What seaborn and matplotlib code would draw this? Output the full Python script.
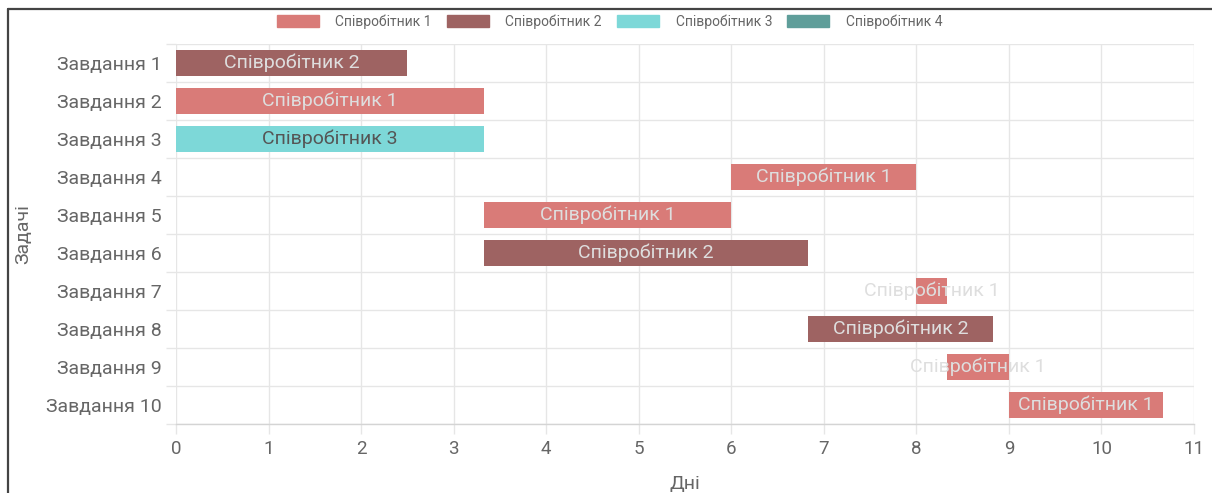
import matplotlib
matplotlib.use("Agg")
import matplotlib.pyplot as plt
from matplotlib.lines import Line2D
from matplotlib.patches import Patch
import numpy as np
import pandas as pd
import seaborn as sns

# Task schedule (days)
tasks = [f"Завдання {i}" for i in range(1, 11)]
assignees = ["Співробітник 2", "Співробітник 1", "Співробітник 3", "Співробітник 1",
             "Співробітник 1", "Співробітник 2", "Співробітник 1", "Співробітник 2",
             "Співробітник 1", "Співробітник 1"]
start_days = [0, 0, 0, 6, 3.33, 3.33, 8, 6.83, 8.33, 9]
end_days = [2.5, 3.33, 3.33, 8, 6, 6.83, 8.33, 8.83, 9, 10.67]

employees = ["Співробітник 1", "Співробітник 2", "Співробітник 3", "Співробітник 4"]
employee_colors = ["#d97b78", "#9e6362", "#7dd8d8", "#5f9e9a"]
text_colors = ["#dedede", "#dedede", "#555555", "#dedede"]

sns.set_theme(style="white")
plt.rcParams["font.family"] = ["Roboto", "DejaVu Sans"]

df = pd.DataFrame({"task": tasks, "employee": assignees,
                   "start": start_days, "end": end_days})

fig = plt.figure(figsize=(12.12, 4.93), dpi=100)
ax = fig.add_axes([176 / 1212, 1 - 424 / 493, (1194 - 176) / 1212, (424 - 44) / 493])

palette = dict(zip(employees, employee_colors))
sns.barplot(data=df, y="task", x="end", hue="employee", hue_order=employees,
            order=tasks, palette=palette, dodge=False, width=0.7,
            saturation=1, legend=False, ax=ax, orient="h")

# Shift each bar so it spans start..end
for p in list(ax.patches):
    w = p.get_width()
    if w is None or np.isnan(w):
        p.remove()
        continue
    idx = int(round(p.get_y() + p.get_height() / 2))
    p.set_x(start_days[idx])
    p.set_width(end_days[idx] - start_days[idx])
    p.set_linewidth(0)

# Names on bars
for i, (s, e, who) in enumerate(zip(start_days, end_days, assignees)):
    c = text_colors[employees.index(who)]
    ax.text((s + e) / 2, i, who, ha="center", va="center",
            fontsize=14, color=c, zorder=5)

ax.set_xlim(0, 11)
ax.set_ylim(9.5, -0.5)
ax.set_xticks(range(12))
ax.set_yticks(np.arange(-0.5, 10, 1), minor=True)

grid_c = "#e6e6e6"
ax.grid(axis="x", which="major", color=grid_c, linewidth=1)
ax.grid(axis="y", which="minor", color=grid_c, linewidth=1)
ax.grid(axis="y", which="major", visible=False)
ax.set_axisbelow(True)

for side in ["left", "top", "right"]:
    ax.spines[side].set_visible(False)
ax.spines["bottom"].set_color("#d4d4d4")
ax.spines["bottom"].set_linewidth(1)

ax.tick_params(axis="x", which="major", length=7.5, width=1, color=grid_c,
               labelsize=13.5, labelcolor="#666666", pad=4, bottom=True)
ax.tick_params(axis="y", which="major", length=0, labelsize=14,
               labelcolor="#666666", pad=10)
ax.tick_params(axis="y", which="minor", length=7.5, width=1, color=grid_c, left=True)

ax.set_xlabel("Дні", fontsize=14, color="#666666", labelpad=12)
ax.set_ylabel("Задачі", fontsize=14, color="#666666", labelpad=10)

handles = [Patch(facecolor=c, edgecolor=c, label=n) for n, c in zip(employees, employee_colors)]
fig.legend(handles=handles, loc="center", bbox_to_anchor=(0.503, 1 - 22 / 493),
           ncol=4, frameon=False, fontsize=10, labelcolor="#666666",
           handlelength=3.0, handleheight=0.95, handletextpad=1.2, columnspacing=1.1)

# Frame lines on top and left edges
fig.add_artist(Line2D([8 / 1212, 8 / 1212], [0, 1 - 9 / 493], color="#444444",
                      linewidth=1.6, transform=fig.transFigure))
fig.add_artist(Line2D([8 / 1212, 1], [1 - 9 / 493, 1 - 9 / 493], color="#444444",
                      linewidth=1.6, transform=fig.transFigure))

fig.savefig("out.png", dpi=100)
